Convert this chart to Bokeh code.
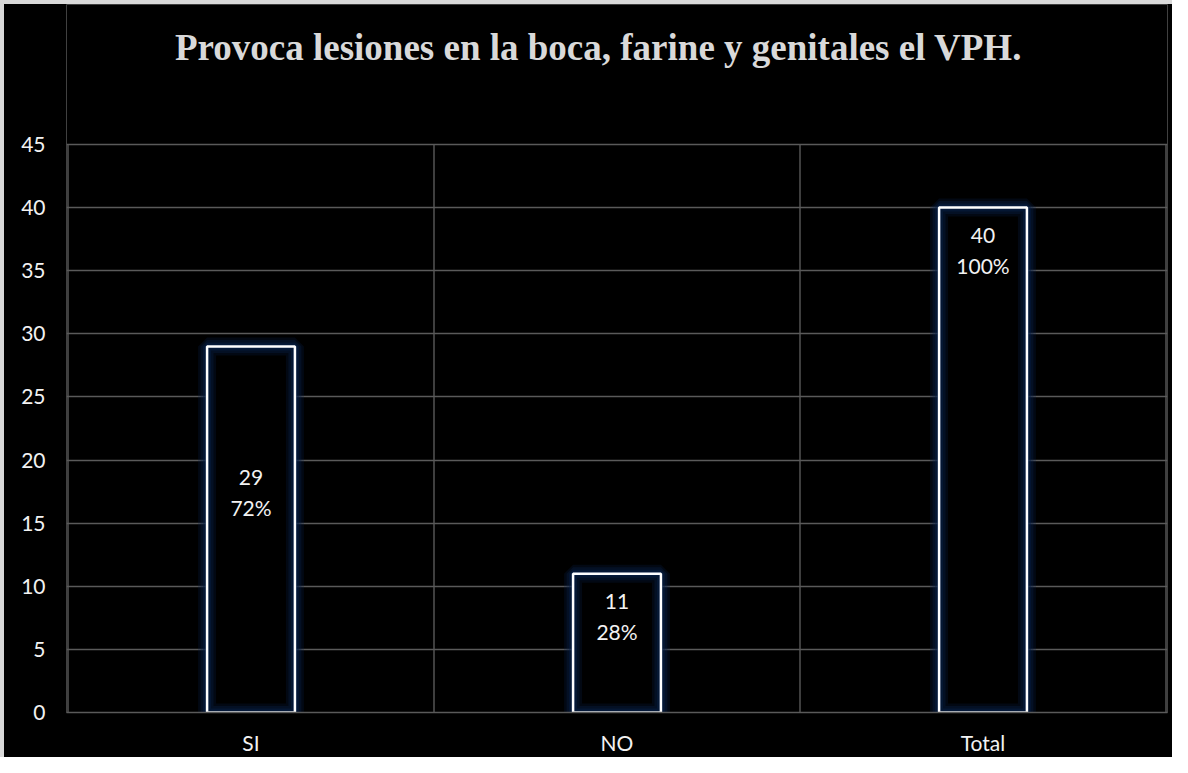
from bokeh.plotting import figure
from bokeh.models import Range1d, FixedTicker, ColumnDataSource, InlineStyleSheet, Label
from bokeh.core.properties import value
from bokeh.embed import file_html
from bokeh.resources import INLINE

# ---- data ----
categories = ["SI", "NO", "Total"]
counts = [29, 11, 40]
percents = ["72%", "28%", "100%"]
y_ticks = [0, 5, 10, 15, 20, 25, 30, 35, 40, 45]
title_text = "Provoca lesiones en la boca, farine y genitales el VPH."

# label anchors (first line centre, in data units)
label_anchor = [18.6, 8.8, 37.8]

xs = [i + 0.5 for i in range(len(categories))]
src = ColumnDataSource(dict(
    x=xs, top=counts, cnt=[str(c) for c in counts], pct=percents, ly=label_anchor,
))
boundaries = list(range(len(categories) + 1))

# layout (pixels): frame extends to the top so the title can live inside it
W, H = 1172, 757
BL, BR, BT, BB = 66, 5, 4, 45
AXIS_TOP_PX = 144          # where the value 45 sits
TITLE_PX = 47              # title centre
frame_bottom = H - BB
ppu = (frame_bottom - AXIS_TOP_PX) / (y_ticks[-1] - y_ticks[0])
y_top = y_ticks[-1] + (AXIS_TOP_PX - BT) / ppu
pad = 1.5 / ((W - BL - BR) / len(categories))

p = figure(width=W, height=H, output_backend="svg", toolbar_location=None,
           x_range=Range1d(-pad, len(categories) + pad), y_range=Range1d(y_ticks[0], y_top),
           min_border_left=BL, min_border_right=BR, min_border_top=BT, min_border_bottom=BB)

p.background_fill_color = "black"
p.border_fill_color = "black"
p.outline_line_color = None
p.stylesheets = [InlineStyleSheet(css="""
:host { position: relative; }
:host::after { content: ""; position: absolute; left: 0; top: 0; width: 100%; height: 100%;
  border-left: 4px solid #d9d9d9; border-top: 4px solid #d9d9d9; box-sizing: border-box;
  pointer-events: none; z-index: 10; }
""")]

# title
p.add_layout(Label(x=598 - BL, y=y_ticks[-1] + (AXIS_TOP_PX - TITLE_PX) / ppu,
                   x_units="screen", y_units="data", text=title_text,
                   text_align="center", text_baseline="middle",
                   text_font="Liberation Serif", text_font_style="bold",
                   text_font_size="37px", text_color="#d9d9d9"))

# grids: horizontal grid lines, vertical category separators limited to 0..45
p.xgrid.grid_line_color = None
p.ygrid.ticker = FixedTicker(ticks=y_ticks)
p.ygrid.grid_line_color = "#5a5a5a"
p.ygrid.grid_line_width = 1.4
p.segment(x0=boundaries, y0=[y_ticks[0]] * len(boundaries), x1=boundaries,
          y1=[y_ticks[-1]] * len(boundaries), line_color="#5a5a5a", line_width=1.4)

# axes
lab_font = "Lato"
p.yaxis.ticker = FixedTicker(ticks=y_ticks)
p.yaxis.axis_line_color = None
p.yaxis.major_tick_line_color = None
p.yaxis.minor_tick_line_color = None
p.yaxis.major_tick_out = 0
p.yaxis.major_label_standoff = 21
p.yaxis.major_label_text_font = lab_font
p.yaxis.major_label_text_font_size = "21px"
p.yaxis.major_label_text_color = "#f2f2f2"

p.xaxis.ticker = FixedTicker(ticks=xs)
p.xaxis.major_label_overrides = {x: c for x, c in zip(xs, categories)}
p.xaxis.axis_line_color = "#5a5a5a"
p.xaxis.axis_line_width = 1.5
p.xaxis.major_tick_line_color = None
p.xaxis.minor_tick_line_color = None
p.xaxis.major_tick_out = 0
p.xaxis.major_label_standoff = 17
p.xaxis.major_label_text_font = lab_font
p.xaxis.major_label_text_font_size = "21px"
p.xaxis.major_label_text_color = "#f2f2f2"

# bars with dark blue glow
bw = 0.24
p.vbar(x="x", top="top", bottom=0, width=bw, source=src, fill_color="black", line_color=None)
for lw, a in [(18, 0.25), (13, 0.32), (8, 0.42), (4, 0.55)]:
    p.vbar(x="x", top="top", bottom=0, width=bw, source=src, fill_color=None,
           line_color="#08214a", line_width=lw, line_alpha=a)
p.vbar(x="x", top="top", bottom=0, width=bw, source=src, fill_color=None,
       line_color="white", line_width=2.5)

# data labels
p.text(x="x", y="ly", text="cnt", source=src, text_align="center", text_baseline="middle",
       text_font=value(lab_font), text_font_size="21px", text_color="#f2f2f2")
p.text(x="x", y="ly", text="pct", source=src, text_align="center", text_baseline="middle",
       y_offset=30, text_font=value(lab_font), text_font_size="21px", text_color="#f2f2f2")

open("out.html", "w").write(file_html(p, INLINE))
